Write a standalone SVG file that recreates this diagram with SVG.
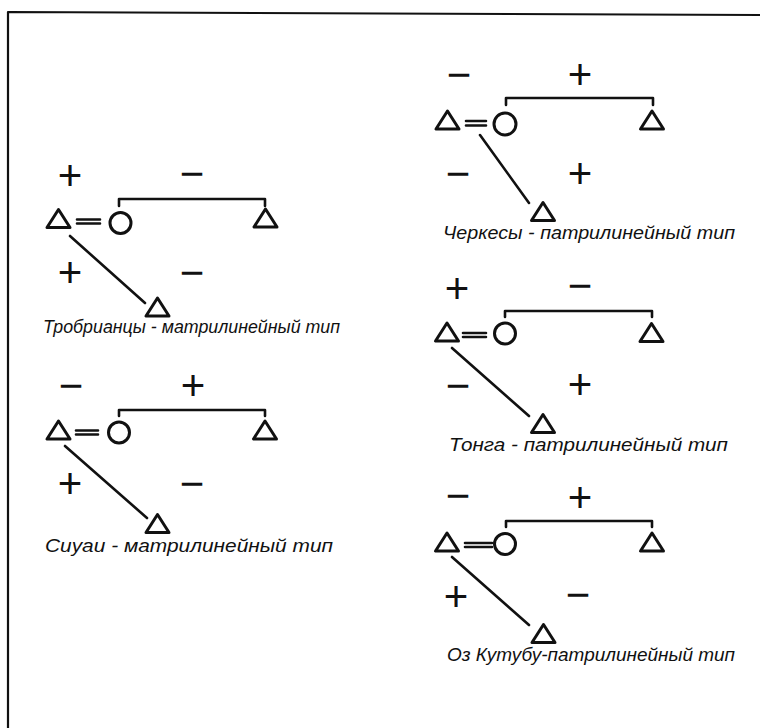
<svg xmlns="http://www.w3.org/2000/svg" xmlns:xlink="http://www.w3.org/1999/xlink" width="760" height="728" viewBox="0 0 760 728">
<style>
.ln{fill:none;stroke:#111;stroke-width:2.6;stroke-linecap:round;stroke-linejoin:round}
.sh{fill:#fff;stroke:#111;stroke-width:3;stroke-linejoin:round}
.sg{font-family:"Liberation Sans",Arial,sans-serif;font-size:42px;fill:#111;text-anchor:middle}
.lb{font-family:"Liberation Sans",Arial,sans-serif;font-style:italic;font-size:19px;fill:#111}
</style>
<defs>
<path id="tri" d="M-11.5,8.5 L11.5,8.5 L0,-9.5 Z"/>
</defs>
<rect width="760" height="728" fill="#fff"/>
<g id="frame" class="ln" style="stroke-width:2.2">
<path d="M8,728 L8,12 L760,15"/>
</g>
<g id="connectors" class="ln">
<path d="M77,219.5 H100 M77,223.5 H100"/>
<path d="M119,206 V199 H265 V206"/>
<path d="M70,236 L145,303"/>
<path d="M76,430.5 H98 M76,434.5 H98"/>
<path d="M119,416 V410 H265 V416"/>
<path d="M65,446 L147,518"/>
<path d="M466,121 H486 M466,125.5 H486"/>
<path d="M506,105 V98 H653 V105"/>
<path d="M480,135 L529,203"/>
<path d="M463,333 H486 M463,337 H486"/>
<path d="M505,317 V311 H652 V317"/>
<path d="M452,348 L529,416"/>
<path d="M465,543 H492 M465,547 H492"/>
<path d="M506,527 V521 H652 V527"/>
<path d="M452,557 L529,625"/>
</g>
<g id="d1">
<g id="d1-husband"><use xlink:href="#tri" class="sh" x="58.5" y="219"/></g>
<g id="d1-wife"><circle class="sh" cx="120.5" cy="223" r="10.5"/></g>
<g id="d1-brother"><use xlink:href="#tri" class="sh" x="265.5" y="218.5"/></g>
<g id="d1-son"><use xlink:href="#tri" class="sh" x="157.5" y="307.5"/></g>
<text class="sg" x="70" y="189.5">+</text>
<text class="sg" x="192" y="187.5">−</text>
<text class="sg" x="70" y="286.5">+</text>
<text class="sg" x="192" y="286.5">−</text>
<text class="lb" x="43" y="333" textLength="297" lengthAdjust="spacingAndGlyphs">Тробрианцы - матрилинейный тип</text>
</g>
<g id="d2">
<g id="d2-husband"><use xlink:href="#tri" class="sh" x="58.5" y="430.5"/></g>
<g id="d2-wife"><circle class="sh" cx="119" cy="432.5" r="10.5"/></g>
<g id="d2-brother"><use xlink:href="#tri" class="sh" x="265" y="430.5"/></g>
<g id="d2-son"><use xlink:href="#tri" class="sh" x="157.5" y="524"/></g>
<text class="sg" x="71" y="399.5">−</text>
<text class="sg" x="193" y="399.5">+</text>
<text class="sg" x="70" y="497.5">+</text>
<text class="sg" x="192" y="497.5">−</text>
<text class="lb" x="45" y="552" textLength="288" lengthAdjust="spacingAndGlyphs">Сиуаи - матрилинейный тип</text>
</g>
<g id="d3">
<g id="d3-husband"><use xlink:href="#tri" class="sh" x="447.5" y="120.5"/></g>
<g id="d3-wife"><circle class="sh" cx="505" cy="124" r="11"/></g>
<g id="d3-brother"><use xlink:href="#tri" class="sh" x="652" y="120.5"/></g>
<g id="d3-son"><use xlink:href="#tri" class="sh" x="543" y="212"/></g>
<text class="sg" x="459" y="88.5">−</text>
<text class="sg" x="580" y="88.5">+</text>
<text class="sg" x="458" y="187.5">−</text>
<text class="sg" x="580" y="187.5">+</text>
<text class="lb" x="443" y="239" textLength="292" lengthAdjust="spacingAndGlyphs">Черкесы - патрилинейный тип</text>
</g>
<g id="d4">
<g id="d4-husband"><use xlink:href="#tri" class="sh" x="447" y="332.5"/></g>
<g id="d4-wife"><circle class="sh" cx="505" cy="333.5" r="10.5"/></g>
<g id="d4-brother"><use xlink:href="#tri" class="sh" x="651.5" y="333"/></g>
<g id="d4-son"><use xlink:href="#tri" class="sh" x="543" y="424"/></g>
<text class="sg" x="457" y="302.5">+</text>
<text class="sg" x="580" y="299.5">−</text>
<text class="sg" x="458" y="399.5">−</text>
<text class="sg" x="580" y="398.5">+</text>
<text class="lb" x="449" y="451" textLength="279" lengthAdjust="spacingAndGlyphs">Тонга - патрилинейный тип</text>
</g>
<g id="d5">
<g id="d5-husband"><use xlink:href="#tri" class="sh" x="447" y="542.5"/></g>
<g id="d5-wife"><circle class="sh" cx="505" cy="544" r="10.5"/></g>
<g id="d5-brother"><use xlink:href="#tri" class="sh" x="652" y="542.5"/></g>
<g id="d5-son"><use xlink:href="#tri" class="sh" x="543.5" y="634"/></g>
<text class="sg" x="458" y="509.5">−</text>
<text class="sg" x="580" y="511.5">+</text>
<text class="sg" x="456" y="610.5">+</text>
<text class="sg" x="578" y="608.5">−</text>
<text class="lb" x="447" y="661" textLength="288" lengthAdjust="spacingAndGlyphs">Оз Кутубу-патрилинейный тип</text>
</g>
</svg>
